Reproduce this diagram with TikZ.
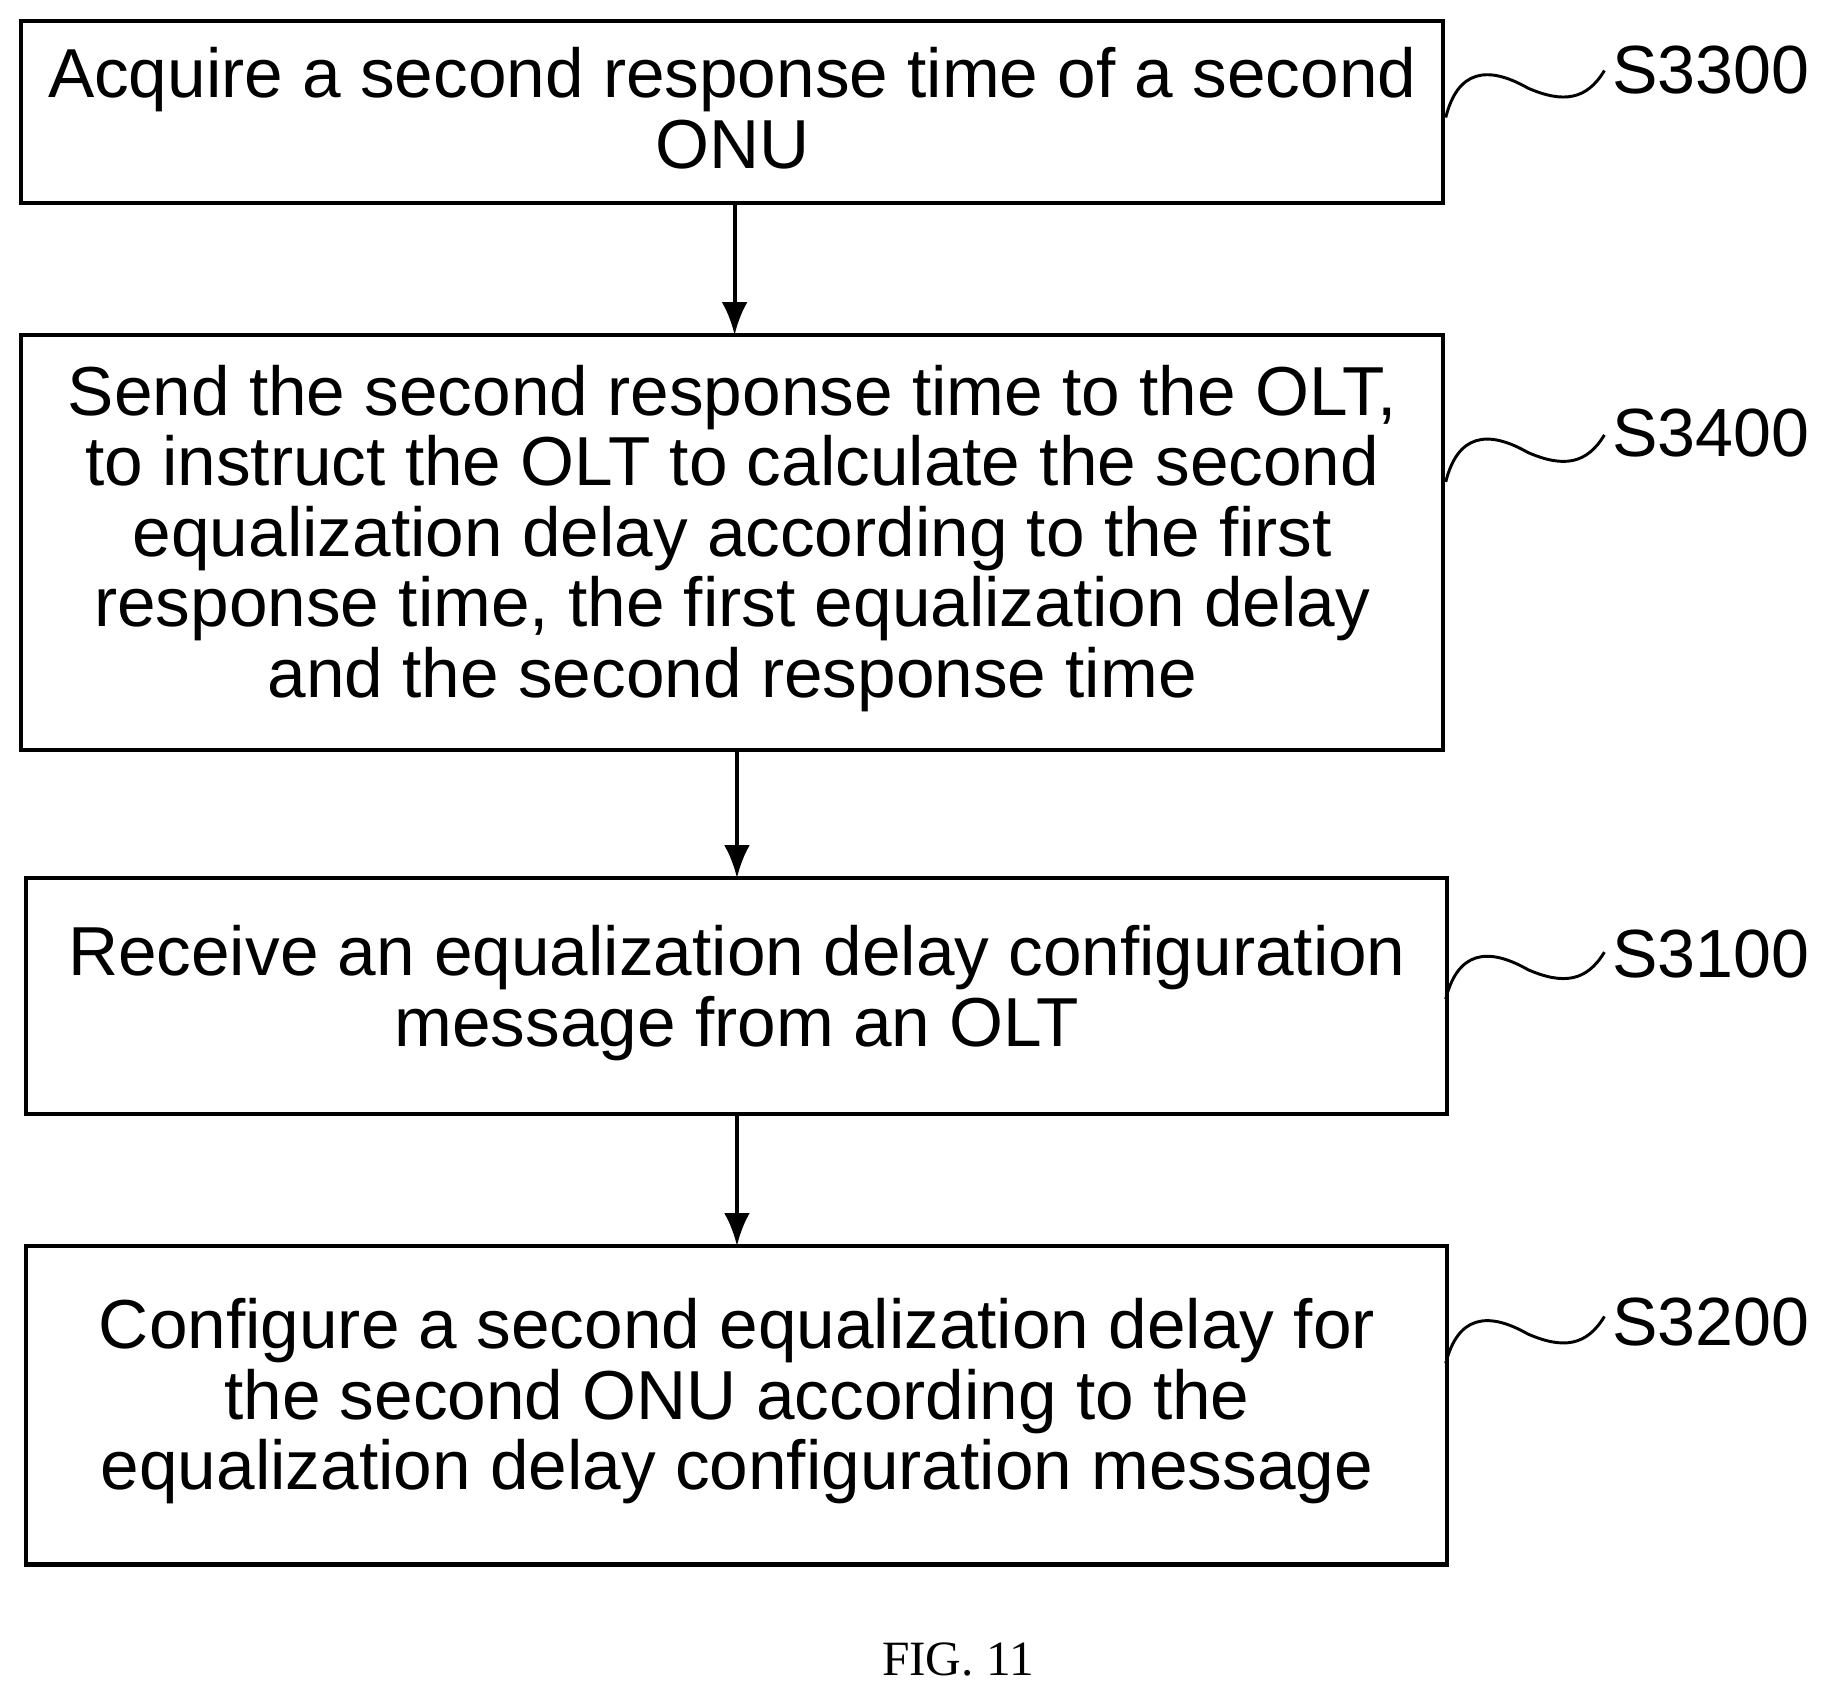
\documentclass[tikz,border=0pt]{standalone}
\usepackage{fontspec}
\setmainfont{Liberation Sans}
\newfontfamily\serifF{Liberation Serif}
\usetikzlibrary{arrows.meta}
\begin{document}
\begin{tikzpicture}[x=1pt,y=-1pt,
 box/.style={draw,line width=3.5pt,inner sep=0pt},
 txt/.style={align=center,font=\fontsize{59}{60}\selectfont},
 arr/.style={line width=3.5pt,-{Latex[length=28pt,width=22pt]}},
 lab/.style={font=\fontsize{58}{60}\selectfont,anchor=west},
 sq/.style={line width=2.5pt}]
\useasboundingbox (0,0) rectangle (1568,1443);
\draw[box] (18,18) rectangle (1228,173); \node[txt] (t1) at (623,92) {Acquire a second response time of a second\\ONU};
\draw[box] (18,285) rectangle (1228,638); \node[txt] (t2) at (623,458) {Send the second response time to the OLT,\\to instruct the OLT to calculate the second\\equalization delay according to the first\\response time, the first equalization delay\\and the second response time};
\draw[box] (22,747) rectangle (1231,948); \node[txt] (t3) at (627,845) {Receive an equalization delay configuration\\message from an OLT};
\draw[box] (22,1060) rectangle (1231,1331); \node[txt] (t4) at (627,1192) {Configure a second equalization delay for\\the second ONU according to the\\equalization delay configuration message};
\coordinate (a1) at (625,173); \coordinate (b1) at (625,285);
\coordinate (a2) at (627,638); \coordinate (b2) at (627,747);
\coordinate (a3) at (627,948); \coordinate (b3) at (627,1060);
\draw[arr] (a1)--(b1); \draw[arr] (a2)--(b2); \draw[arr] (a3)--(b3);
\foreach \n/\y/\yl in {S3300/100/60,S3400/410/368,S3100/850/812,S3200/1160/1125}{
 \node[lab] (l\n) at (1368,\yl) {\n};
 \draw[sq] (1230,\y) .. controls (1240,\y-40) and (1265,\y-45) .. (1300,\y-25) .. controls (1330,\y-12) and (1350,\y-15) .. (1365,\y-40);
}
\node[font=\serifF\fontsize{42}{44}\selectfont] (fig) at (815,1412) {FIG. 11};
\end{tikzpicture}
\end{document}
